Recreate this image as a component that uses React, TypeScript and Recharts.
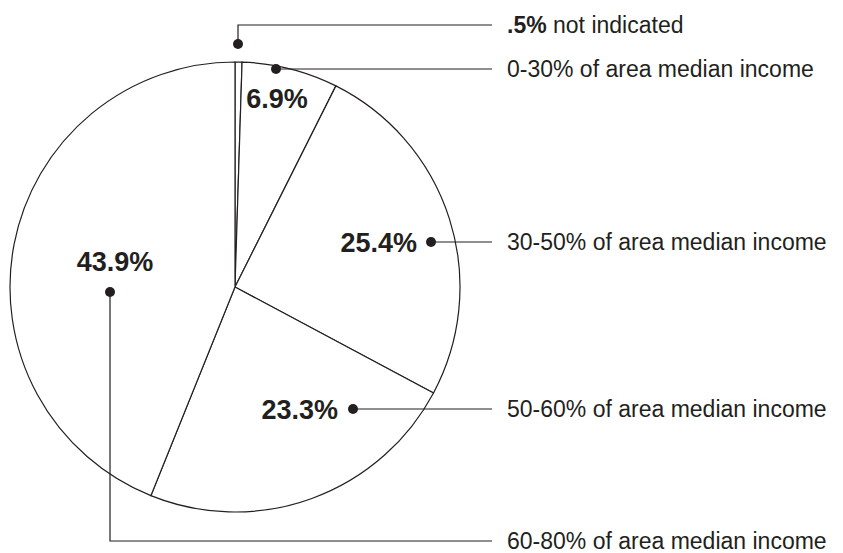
import { PieChart, Pie, Cell } from 'recharts';

const categories = [
  'not indicated',
  '0-30% of area median income',
  '30-50% of area median income',
  '50-60% of area median income',
  '60-80% of area median income',
];
const shares = [0.5, 6.9, 25.4, 23.3, 43.9];
const shareLabels = ['.5%', '6.9%', '25.4%', '23.3%', '43.9%'];

const data = categories.map((name, i) => ({ name, value: shares[i], label: shareLabels[i] }));

const INK = '#231f20';
const FONT = '"Liberation Sans", Arial, Helvetica, sans-serif';

// annotation layout, offsets from the pie centre
// dot: where the bullet sits, legendY: where the leader line meets the text column
const callouts = [
  { dot: [3, -243], legendY: -262, text: null, anchor: 'middle' },
  { dot: [41, -218], legendY: -218, text: [42, -188], anchor: 'middle' },
  { dot: [196, -45], legendY: -45, text: [182, -44], anchor: 'end' },
  { dot: [118, 122], legendY: 122, text: [103, 123], anchor: 'end' },
  { dot: [-125, 5], legendY: 254, text: [-120, -25], anchor: 'middle' },
];

const LINE_END = 257; // x offset from centre where leaders stop
const TEXT_X = 272; // x offset from centre where legend text starts

function renderCallout(props: any) {
  const { cx, cy, index } = props;
  const c = callouts[index];
  const d = data[index];
  const dx = cx + c.dot[0];
  const dy = cy + c.dot[1];
  const ly = cy + c.legendY;
  const path =
    c.legendY === c.dot[1]
      ? `M${dx},${dy} L${cx + LINE_END},${ly}`
      : `M${dx},${dy} L${dx},${ly} L${cx + LINE_END},${ly}`;
  return (
    <g key={`callout-${index}`}>
      <path d={path} stroke={INK} strokeWidth={1.2} fill="none" />
      <circle cx={dx} cy={dy} r={5} fill={INK} />
      {c.text && (
        <text
          x={cx + c.text[0]}
          y={cy + c.text[1]}
          textAnchor={c.anchor as any}
          dominantBaseline="central"
          fontFamily={FONT}
          fontWeight="bold"
          fontSize={27}
          fill={INK}
        >
          {d.label}
        </text>
      )}
      <text
        x={cx + TEXT_X}
        y={ly}
        dominantBaseline="central"
        fontFamily={FONT}
        fontSize={23}
        fill={INK}
      >
        {index === 0 ? (
          <>
            <tspan fontWeight="bold">{d.label}</tspan> {d.name}
          </>
        ) : (
          d.name
        )}
      </text>
    </g>
  );
}

export default function App() {
  return (
    <div style={{ position: 'absolute', left: 0, top: 0, background: '#fff' }}>
      <PieChart width={843} height={553} margin={{ top: 0, right: 0, bottom: 0, left: 0 }}>
        <Pie
          data={data}
          dataKey="value"
          nameKey="name"
          cx={235}
          cy={287}
          outerRadius={225}
          startAngle={90}
          endAngle={-270}
          stroke={INK}
          strokeWidth={1.2}
          label={renderCallout}
          labelLine={false}
          isAnimationActive={false}
        >
          {data.map((d) => (
            <Cell key={d.name} fill="#ffffff" />
          ))}
        </Pie>
      </PieChart>
    </div>
  );
}
